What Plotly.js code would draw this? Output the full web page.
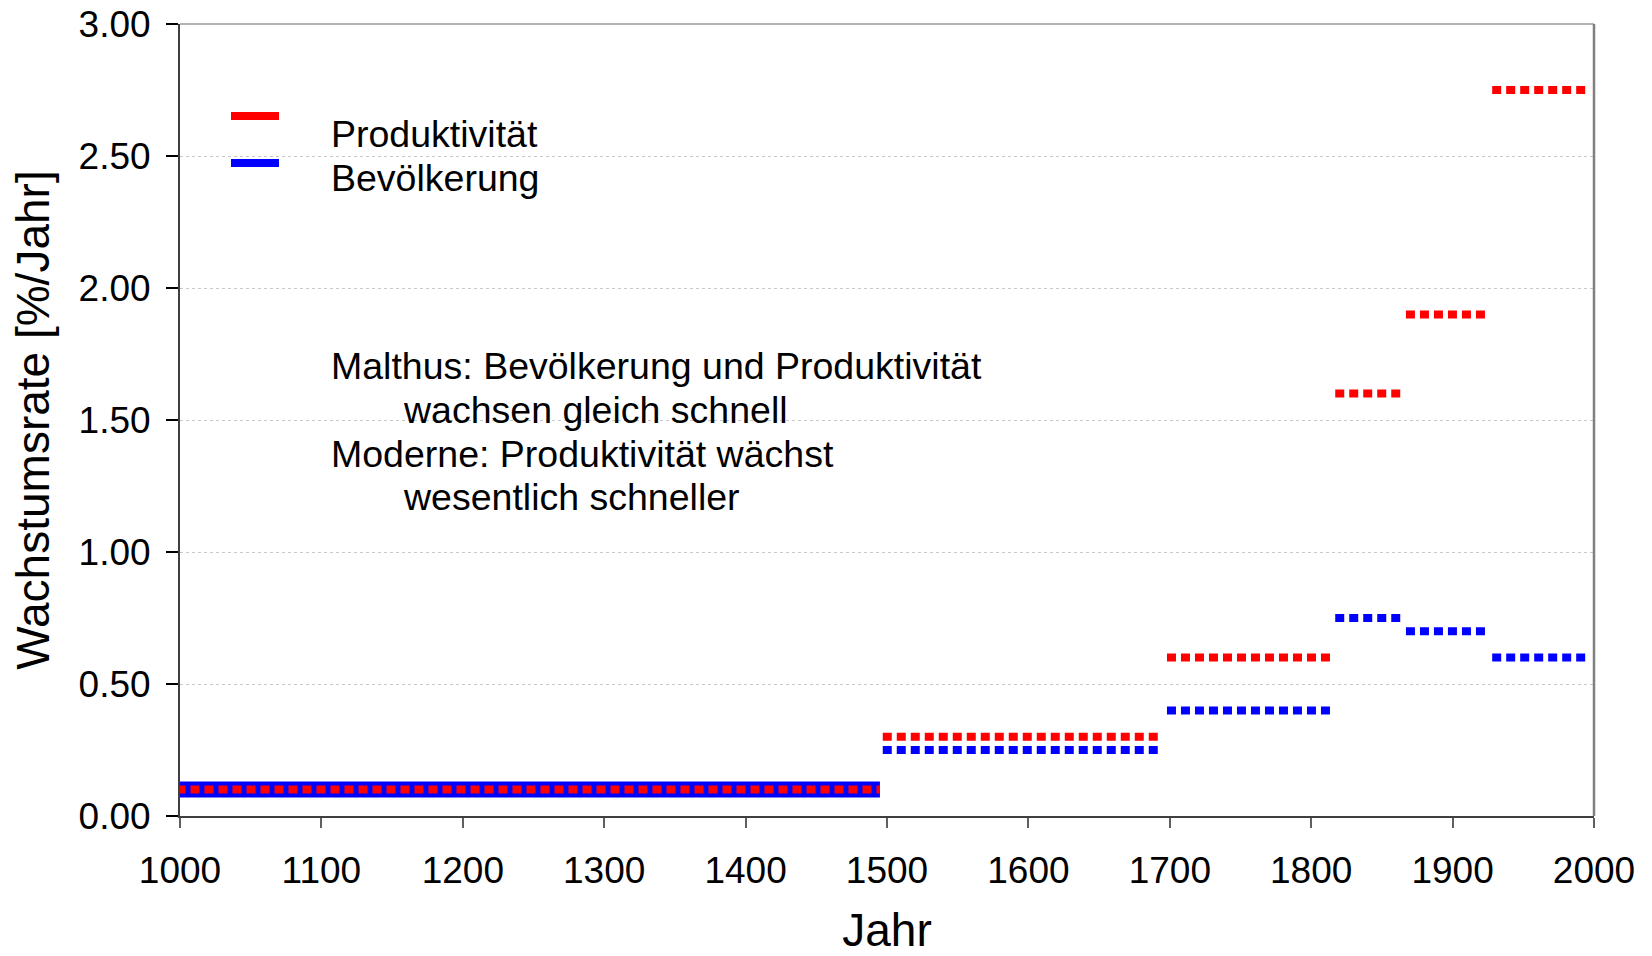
<!DOCTYPE html>
<html>
<head>
<meta charset="utf-8">
<script src="https://cdn.plot.ly/plotly-3.0.1.min.js"></script>
<style>
  html, body { margin: 0; padding: 0; background: #ffffff; }
  #chart { width: 1652px; height: 956px; }
</style>
</head>
<body>
<div id="chart"></div>
<script>
// ---- data ----
const segStart = [995, 1497, 1698, 1817, 1867, 1928];
const segEnd = [1495, 1693, 1814, 1864, 1923, 1994];
const produktivitaet = [0.10, 0.30, 0.60, 1.60, 1.90, 2.75];
const bevoelkerung = [0.10, 0.25, 0.40, 0.75, 0.70, 0.60];
const seriesNames = ["Produktivität", "Bevölkerung"];
const xTickVals = [1000, 1100, 1200, 1300, 1400, 1500, 1600, 1700, 1800, 1900, 2000];
const yTickVals = [0, 0.5, 1.0, 1.5, 2.0, 2.5, 3.0];
const noteLines = [
  "Malthus: Bevölkerung und Produktivität",
  "wachsen gleich schnell",
  "Moderne: Produktivität wächst",
  "wesentlich schneller"
];

const RED = "#ff0000";
const BLUE = "#0000ff";
const FONT = "Liberation Sans, Arial, Helvetica, sans-serif";

const traces = [];
// Bevölkerung first (drawn underneath)
for (let i = 0; i < segStart.length; i++) {
  const first = i === 0;
  traces.push({
    type: "scatter", mode: "lines",
    x: [segStart[i], segEnd[i]], y: [bevoelkerung[i], bevoelkerung[i]],
    name: seriesNames[1], showlegend: false, hoverinfo: "x+y",
    line: first ? { color: BLUE, width: 16 } : { color: BLUE, width: 8, dash: "9px,5px" }
  });
}
for (let i = 0; i < segStart.length; i++) {
  const first = i === 0;
  traces.push({
    type: "scatter", mode: "lines",
    x: [first ? segStart[i] + 2.5 : segStart[i], segEnd[i]], y: [produktivitaet[i], produktivitaet[i]],
    name: seriesNames[0], showlegend: false, hoverinfo: "x+y",
    line: { color: RED, width: 8, dash: "9px,5px" }
  });
}

// plot-area geometry helpers (pixel -> paper)
const L = 180, R = 1594, T = 24, B = 816;
const px = v => (v - L) / (R - L);
const py = v => (B - v) / (B - T);

const annotations = [
  { text: seriesNames[0], x: px(329), y: py(134), xanchor: "left" },
  { text: seriesNames[1], x: px(329), y: py(178), xanchor: "left" },
  { text: noteLines[0], x: px(329), y: py(366), xanchor: "left" },
  { text: noteLines[1], x: px(401), y: py(410), xanchor: "left" },
  { text: noteLines[2], x: px(329), y: py(454), xanchor: "left" },
  { text: noteLines[3], x: px(401), y: py(497), xanchor: "left" }
].map(a => Object.assign({
  xref: "paper", yref: "paper", yanchor: "middle", showarrow: false,
  font: { family: FONT, size: 37.5, color: "#000" }
}, a));

const shapes = [
  // legend keys
  { type: "line", xref: "paper", yref: "paper", x0: px(231), x1: px(279), y0: py(116), y1: py(116), line: { color: RED, width: 8 } },
  { type: "line", xref: "paper", yref: "paper", x0: px(231), x1: px(279), y0: py(163), y1: py(163), line: { color: BLUE, width: 8 } },
  // top & right frame
  { type: "line", xref: "paper", yref: "paper", x0: 0, x1: 1, y0: 1, y1: 1, line: { color: "#9a9a9a", width: 1.5 } },
  { type: "line", xref: "paper", yref: "paper", x0: 1, x1: 1, y0: 0, y1: 1, line: { color: "#808080", width: 2.5 } }
];

const layout = {
  width: 1652, height: 956,
  margin: { l: L, r: 1652 - R, t: T, b: 956 - B },
  paper_bgcolor: "#ffffff", plot_bgcolor: "#ffffff",
  showlegend: false,
  font: { family: FONT, color: "#000" },
  xaxis: {
    range: [1000, 2000], tickvals: xTickVals, ticktext: xTickVals.map(String),
    ticks: "outside", ticklen: 10, tickwidth: 2, tickcolor: "#606060",
    showline: true, linecolor: "#404040", linewidth: 2,
    showgrid: false, zeroline: false,
    tickfont: { family: FONT, size: 37, color: "#000" },
    ticklabelstandoff: 11,
    title: { text: "Jahr", font: { family: FONT, size: 46, color: "#000" }, standoff: 35 }
  },
  yaxis: {
    range: [0, 3], tickvals: yTickVals, tickformat: ".2f",
    ticks: "outside", ticklen: 12, tickwidth: 2, tickcolor: "#000",
    showline: true, linecolor: "#404040", linewidth: 2,
    showgrid: true, gridcolor: "#c8c8c8", gridwidth: 1, griddash: "dot",
    zeroline: false,
    tickfont: { family: FONT, size: 37, color: "#000" },
    ticklabelstandoff: 8,
    title: { text: "Wachstumsrate [%/Jahr]", font: { family: FONT, size: 46, color: "#000" }, standoff: 14 }
  },
  annotations: annotations,
  shapes: shapes
};

Plotly.newPlot("chart", traces, layout, { displayModeBar: false, staticPlot: true });
</script>
</body>
</html>
